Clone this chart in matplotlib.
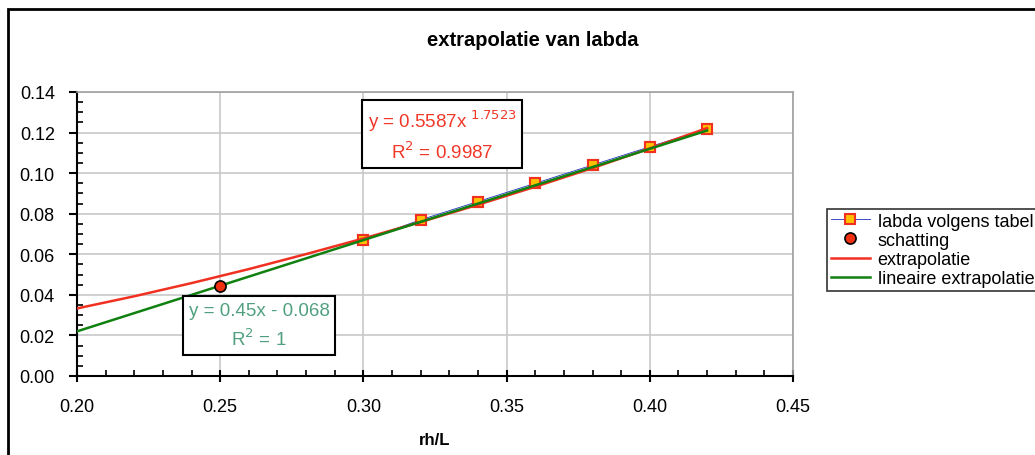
import numpy as np
import matplotlib.pyplot as plt
from matplotlib.patches import Rectangle
from matplotlib.ticker import MultipleLocator, FormatStrFormatter

plt.rcParams['font.family'] = ['Liberation Sans', 'DejaVu Sans']

# measured points (labda volgens tabel)
rh_L = [0.30, 0.32, 0.34, 0.36, 0.38, 0.40, 0.42]
labda = [0.067, 0.077, 0.086, 0.095, 0.104, 0.113, 0.122]

# estimate (schatting)
schat_x = [0.25]
schat_y = [0.0445]

# power trendline
extra_x = [0.20, 0.22, 0.24, 0.26, 0.28, 0.30, 0.32, 0.34, 0.36, 0.38, 0.40, 0.42]
extra_y = [0.0333, 0.0393, 0.0458, 0.0527, 0.0601, 0.0678, 0.0759, 0.0844,
           0.0933, 0.1025, 0.1122, 0.1222]

# linear trendline
lin_x = [0.20, 0.42]
lin_y = [0.022, 0.121]

fig = plt.figure(figsize=(10.35, 4.56), dpi=100)
ax = fig.add_axes([77 / 1035, 1 - 377 / 456, (793 - 77) / 1035, (377 - 93) / 456])

# outer chart frame
fig.patches.append(Rectangle((8 / 1035, -0.05), 1.1, 1 - 10 / 456 + 0.05,
                             transform=fig.transFigure, fill=False,
                             edgecolor='black', lw=2))

ax.plot(rh_L, labda, color='#2030c0', lw=0.6, zorder=2, marker='s', ms=7,
        mfc='#ffc000', mec='#f03020', mew=1.5, label='labda volgens tabel')
ax.plot(schat_x, schat_y, ls='none', marker='o', ms=8, mfc='#f03010',
        mec='black', mew=1.2, zorder=6, label='schatting')
ax.plot(extra_x, extra_y, color='#f03020', lw=1.8, zorder=4, label='extrapolatie')
ax.plot(lin_x, lin_y, color='#108010', lw=1.8, zorder=5, label='lineaire extrapolatie')
# keep markers visible above the trendlines
ax.plot(rh_L, labda, ls='none', marker='s', ms=7, mfc='#ffc000', mec='#f03020',
        mew=1.5, zorder=3)

ax.set_xlim(0.20, 0.45)
ax.set_ylim(0.0, 0.14)
ax.xaxis.set_major_locator(MultipleLocator(0.05))
ax.xaxis.set_minor_locator(MultipleLocator(0.01))
ax.yaxis.set_major_locator(MultipleLocator(0.02))
ax.yaxis.set_minor_locator(MultipleLocator(0.005))
ax.xaxis.set_major_formatter(FormatStrFormatter('%.2f'))
ax.yaxis.set_major_formatter(FormatStrFormatter('%.2f'))
ax.tick_params(axis='x', which='major', direction='inout', length=8, width=1.5, labelsize=13, pad=12)
ax.tick_params(axis='y', which='major', direction='out', length=6, width=1.5, labelsize=13, pad=10)
ax.tick_params(which='minor', direction='in', length=4, width=1.2)
ax.grid(True, which='major', color='#c8c8c8', lw=1.2)
ax.set_axisbelow(True)
for s in ['top', 'right']:
    ax.spines[s].set_color('#a0a0a0')
    ax.spines[s].set_linewidth(1.2)
for s in ['left', 'bottom']:
    ax.spines[s].set_linewidth(1.5)

ax.set_xlabel('rh/L', fontweight='bold', fontsize=12, labelpad=12)
fig.text(533 / 1035, 1 - 40 / 456, 'extrapolatie van labda', fontweight='bold',
         fontsize=14.5, ha='center', va='center')

ax.text(0.3274, 0.1188, 'y = 0.5587x $^{\\mathsf{1.7523}}$\nR$^{\\mathsf{2}}$ = 0.9987',
        color='#f03828', fontsize=13.5, ha='center', va='center', linespacing=1.45,
        zorder=7,
        bbox=dict(boxstyle='square,pad=0.3', fc='white', ec='black', lw=1.5))
ax.text(0.2636, 0.0249, 'y = 0.45x - 0.068\nR$^{\\mathsf{2}}$ = 1',
        color='#50a080', fontsize=13.5, ha='center', va='center', linespacing=1.5,
        zorder=7,
        bbox=dict(boxstyle='square,pad=0.3', fc='white', ec='black', lw=1.5))

leg = ax.legend(loc='upper left', bbox_to_anchor=(827 / 1035, 1 - 210 / 456),
                bbox_transform=fig.transFigure, frameon=True, fancybox=False,
                fontsize=13, handlelength=2.2, handletextpad=0.4,
                borderpad=0.2, labelspacing=0.12, borderaxespad=0)
leg.get_frame().set_edgecolor('black')
leg.get_frame().set_linewidth(1.2)

plt.savefig('out.png', dpi=100)
